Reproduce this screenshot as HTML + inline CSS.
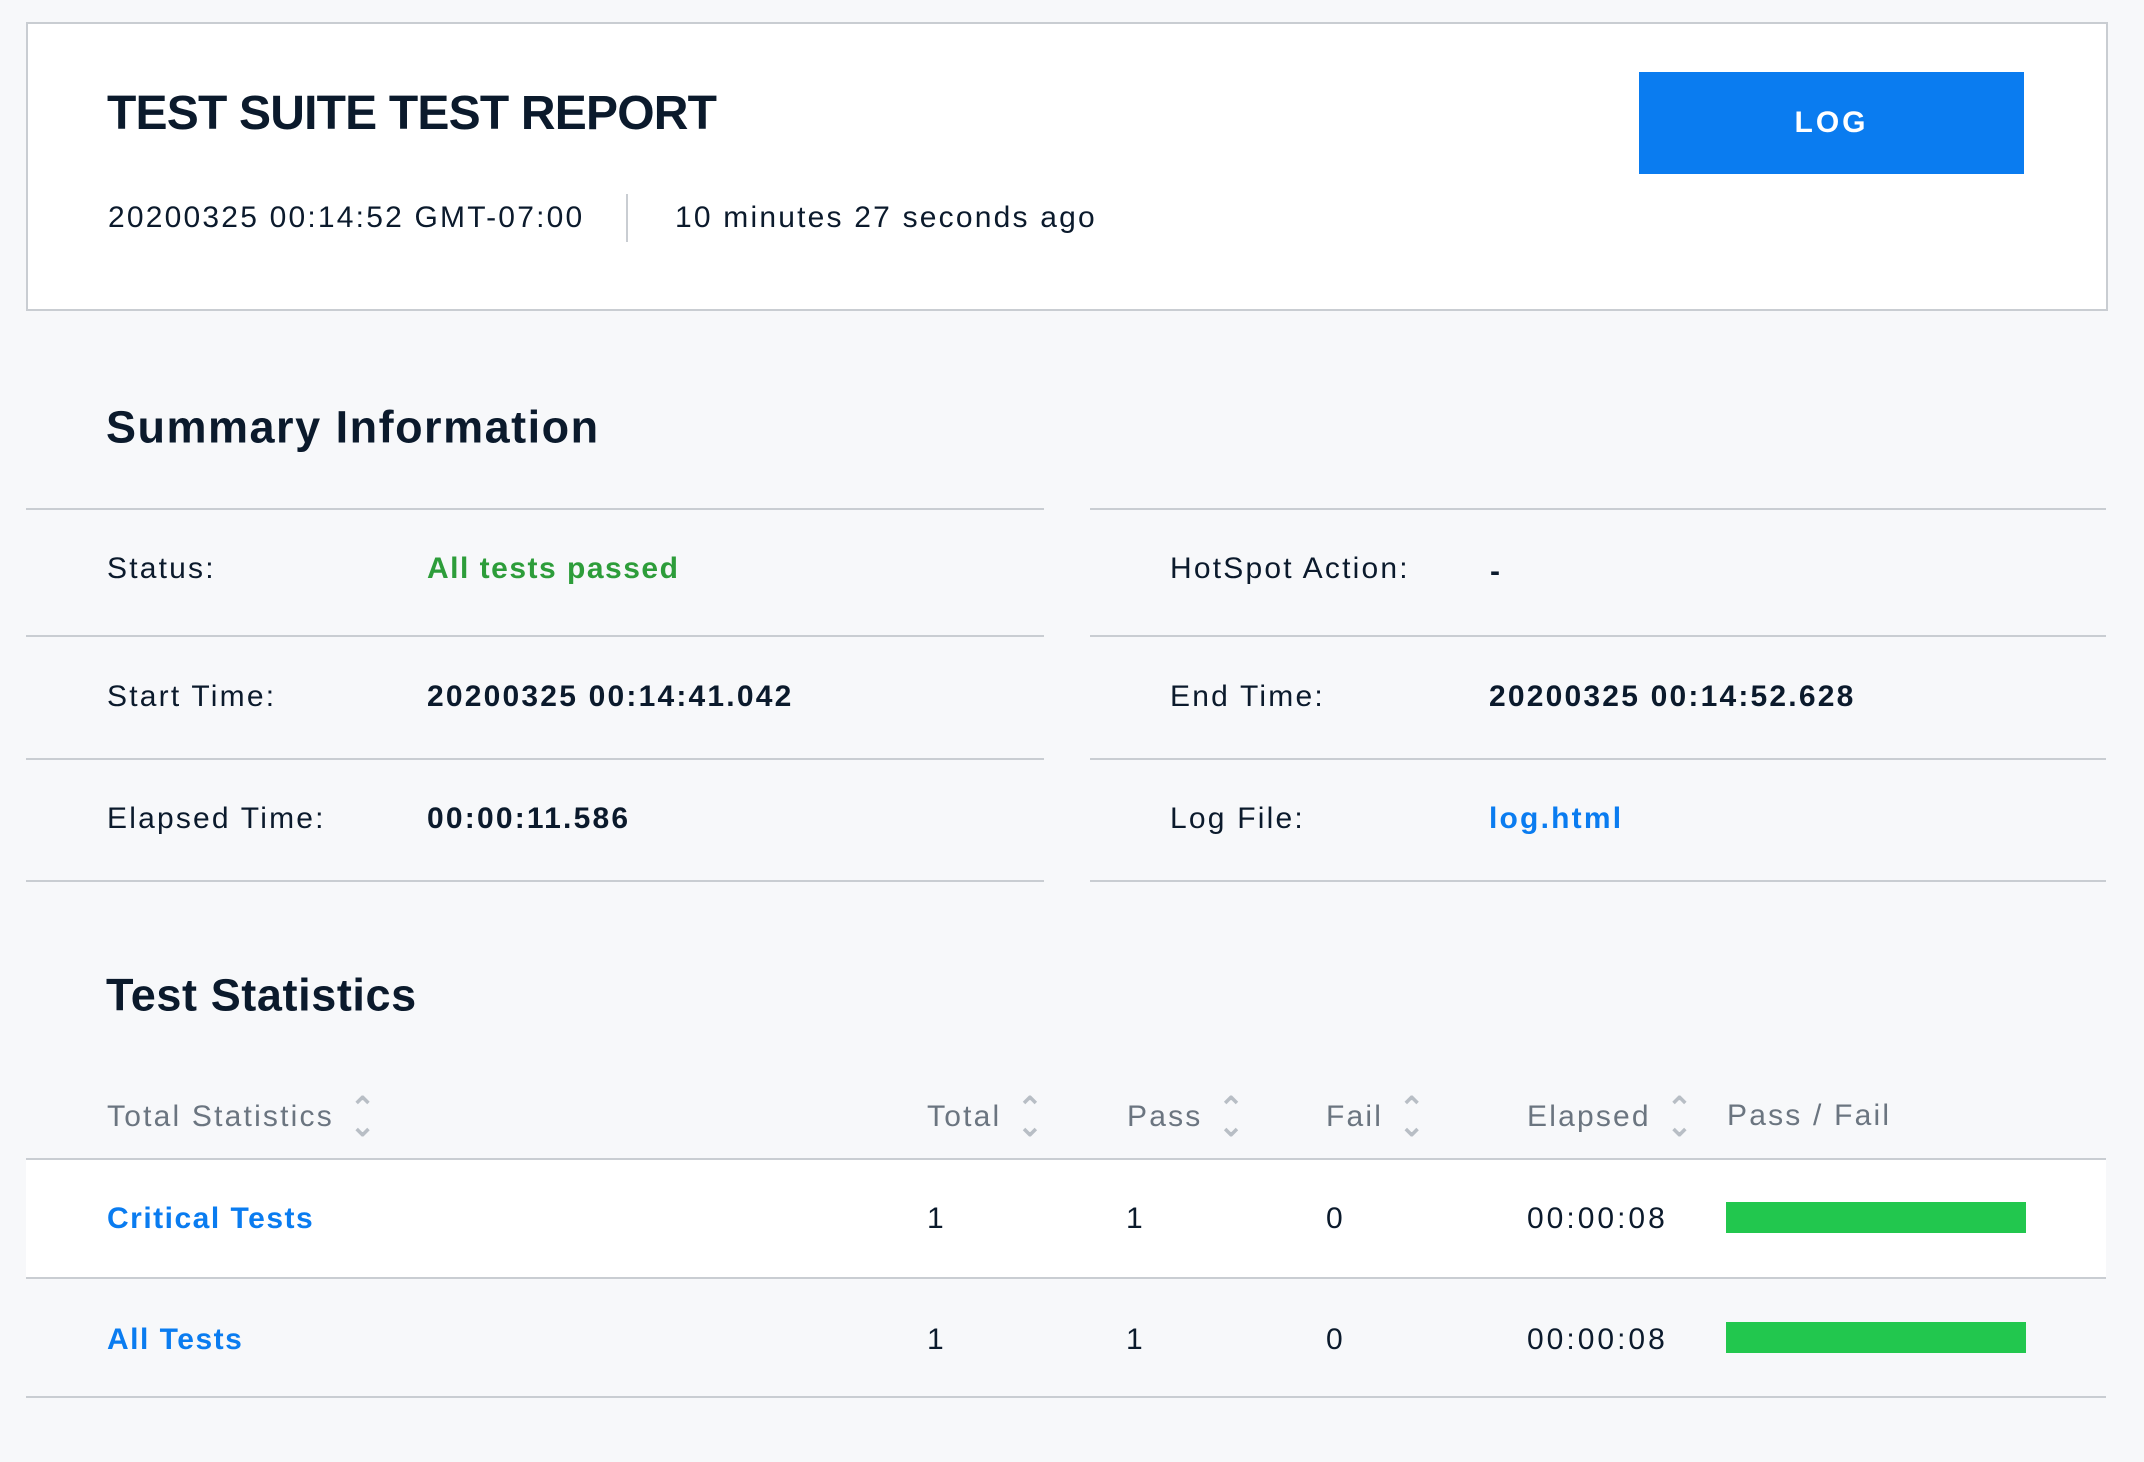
<!DOCTYPE html>
<html><head><meta charset="utf-8"><style>
body{margin:0;width:2144px;height:1462px;background:#f7f8fa;font-family:"Liberation Sans",sans-serif;color:#0b1a2c;position:relative;overflow:hidden}
.a{position:absolute;white-space:nowrap;letter-spacing:2.2px}
.hdr{position:absolute;left:26px;top:22px;width:2078px;height:285px;background:#fff;border:2px solid #c9cdd2}
.t{line-height:1;transform:translateY(-50%)}
.line{position:absolute;height:2px;background:#c9cdd2}
.b{font-weight:bold}
.blue{color:#0a7cf0}
.gray{color:#6b7580}
.bar{position:absolute;background:#22c74e;width:300px;height:31px;left:1726px}
.arr{display:inline-block;margin-left:16px;color:#b8bec5;font-size:30px;font-weight:bold;line-height:0.6;vertical-align:middle;text-align:center;letter-spacing:0}
</style></head><body>
<div class="hdr"></div>
<div class="a b t" style="left:107px;top:114px;font-size:48px;letter-spacing:-0.8px">TEST SUITE TEST REPORT</div>
<div class="a t" style="left:108px;top:218px;font-size:30px">20200325 00:14:52 GMT-07:00</div>
<div style="position:absolute;left:626px;top:194px;width:2px;height:48px;background:#c9cdd2"></div>
<div class="a t" style="left:675px;top:218px;font-size:30px">10 minutes 27 seconds ago</div>
<div style="position:absolute;left:1639px;top:72px;width:385px;height:102px;background:#0a7cf0;color:#fff;font-weight:bold;font-size:30px;letter-spacing:3px;display:flex;align-items:center;justify-content:center">LOG</div>

<div class="a b t" style="left:106px;top:427px;font-size:45px;letter-spacing:1.5px">Summary Information</div>
<div class="line" style="left:26px;width:1018px;top:508px"></div>
<div class="line" style="left:1090px;width:1016px;top:508px"></div>
<div class="line" style="left:26px;width:1018px;top:635px"></div>
<div class="line" style="left:1090px;width:1016px;top:635px"></div>
<div class="line" style="left:26px;width:1018px;top:758px"></div>
<div class="line" style="left:1090px;width:1016px;top:758px"></div>
<div class="line" style="left:26px;width:1018px;top:880px"></div>
<div class="line" style="left:1090px;width:1016px;top:880px"></div>

<div class="a t" style="left:107px;top:569px;font-size:30px">Status:</div>
<div class="a t b" style="left:427px;top:569px;font-size:30px;color:#2d9d3a;letter-spacing:1.5px">All tests passed</div>
<div class="a t" style="left:1170px;top:569px;font-size:30px">HotSpot Action:</div>
<div class="a t b" style="left:1490px;top:572px;font-size:30px">-</div>
<div class="a t" style="left:107px;top:697px;font-size:30px">Start Time:</div>
<div class="a t b" style="left:427px;top:697px;font-size:30px">20200325 00:14:41.042</div>
<div class="a t" style="left:1170px;top:697px;font-size:30px">End Time:</div>
<div class="a t b" style="left:1489px;top:697px;font-size:30px">20200325 00:14:52.628</div>
<div class="a t" style="left:107px;top:819px;font-size:30px">Elapsed Time:</div>
<div class="a t b" style="left:427px;top:819px;font-size:30px">00:00:11.586</div>
<div class="a t" style="left:1170px;top:819px;font-size:30px">Log File:</div>
<div class="a t b blue" style="left:1489px;top:819px;font-size:30px">log.html</div>

<div class="a b t" style="left:106px;top:995px;font-size:45px;letter-spacing:0.6px">Test Statistics</div>

<div class="a t gray" style="left:107px;top:1118px;font-size:30px">Total Statistics<span class="arr">&#8963;<br>&#8964;</span></div>
<div class="a t gray" style="left:927px;top:1118px;font-size:30px">Total<span class="arr">&#8963;<br>&#8964;</span></div>
<div class="a t gray" style="left:1127px;top:1118px;font-size:30px">Pass<span class="arr">&#8963;<br>&#8964;</span></div>
<div class="a t gray" style="left:1326px;top:1118px;font-size:30px">Fail<span class="arr">&#8963;<br>&#8964;</span></div>
<div class="a t gray" style="left:1527px;top:1118px;font-size:30px">Elapsed<span class="arr">&#8963;<br>&#8964;</span></div>
<div class="a t gray" style="left:1727px;top:1116px;font-size:30px">Pass / Fail</div>

<div style="position:absolute;left:26px;width:2080px;top:1159px;height:119px;background:#fff"></div>
<div class="line" style="left:26px;width:2080px;top:1158px"></div>
<div class="line" style="left:26px;width:2080px;top:1277px"></div>
<div class="line" style="left:26px;width:2080px;top:1396px"></div>

<div class="a t b blue" style="left:107px;top:1219px;font-size:30px;letter-spacing:1.5px">Critical Tests</div>
<div class="a t" style="left:927px;top:1219px;font-size:30px">1</div>
<div class="a t" style="left:1126px;top:1219px;font-size:30px">1</div>
<div class="a t" style="left:1326px;top:1219px;font-size:30px">0</div>
<div class="a t" style="left:1527px;top:1219px;font-size:30px;letter-spacing:3px">00:00:08</div>
<div class="bar" style="top:1202px"></div>

<div class="a t b blue" style="left:107px;top:1340px;font-size:30px;letter-spacing:1.5px">All Tests</div>
<div class="a t" style="left:927px;top:1340px;font-size:30px">1</div>
<div class="a t" style="left:1126px;top:1340px;font-size:30px">1</div>
<div class="a t" style="left:1326px;top:1340px;font-size:30px">0</div>
<div class="a t" style="left:1527px;top:1340px;font-size:30px;letter-spacing:3px">00:00:08</div>
<div class="bar" style="top:1322px"></div>
</body></html>
